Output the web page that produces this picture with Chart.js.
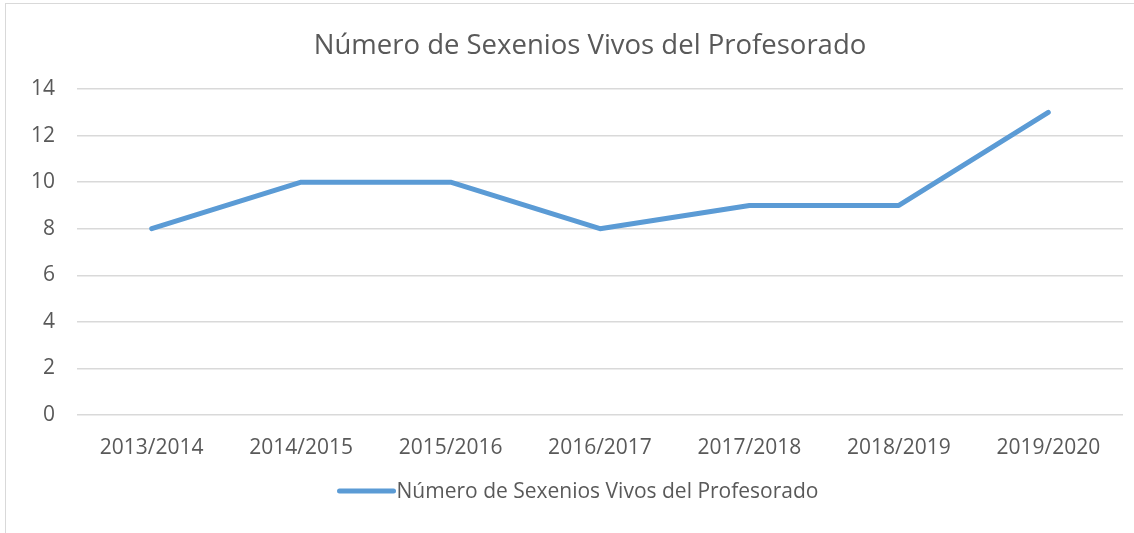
<!DOCTYPE html>
<html>
<head>
<meta charset="utf-8">
<script src="https://cdn.jsdelivr.net/npm/chart.js@4"></script>
<style>
  html, body { margin: 0; padding: 0; background: #fff; }
  #wrap { position: relative; width: 1134px; height: 533px; }
  #frame { position: absolute; left: 5px; top: 3px; width: 1140px; height: 540px; border: 1.5px solid #d9d9d9; pointer-events: none; }
</style>
</head>
<body>
<div id="wrap">
  <canvas id="chart" width="1134" height="533"></canvas>
  <div id="frame"></div>
</div>
<script>
const TITLE = 'Número de Sexenios Vivos del Profesorado';
const CATEGORIES = ['2013/2014', '2014/2015', '2015/2016', '2016/2017', '2017/2018', '2018/2019', '2019/2020'];
const SEXENIOS = [8, 10, 10, 8, 9, 9, 13];
const Y_MIN = 0, Y_MAX = 14, Y_STEP = 2;

const TEXT = '#595959';
const LINE = '#5b9bd5';
const GRID = '#d9d9d9';
const FONT = "'Open Sans', sans-serif";

// titulo y leyenda dibujados a mano para colocarlos como en Excel
const decor = {
  id: 'decor',
  afterDraw(chart) {
    const ctx = chart.ctx;
    ctx.save();
    ctx.fillStyle = TEXT;
    ctx.textBaseline = 'middle';
    ctx.textAlign = 'center';
    ctx.font = '27.5px ' + FONT;
    ctx.fillText(TITLE, 590, 46);

    ctx.font = '21px ' + FONT;
    const w = ctx.measureText(TITLE).width;
    const x0 = 578 - (w + 59) / 2;
    ctx.strokeStyle = LINE;
    ctx.lineWidth = 5;
    ctx.lineCap = 'round';
    ctx.beginPath();
    ctx.moveTo(x0 + 2, 491);
    ctx.lineTo(x0 + 56, 491);
    ctx.stroke();
    ctx.textAlign = 'left';
    ctx.fillText(TITLE, x0 + 59, 492);
    ctx.restore();
  }
};

new Chart(document.getElementById('chart'), {
  type: 'line',
  data: {
    labels: CATEGORIES,
    datasets: [{
      label: TITLE,
      data: SEXENIOS,
      borderColor: LINE,
      backgroundColor: LINE,
      borderWidth: 5,
      borderCapStyle: 'round',
      borderJoinStyle: 'round',
      pointRadius: 0,
      tension: 0
    }]
  },
  options: {
    responsive: false,
    animation: false,
    layout: { padding: { top: 89, right: 11, left: 0, bottom: 0 } },
    plugins: {
      legend: { display: false },
      title: { display: false },
      tooltip: { enabled: false }
    },
    scales: {
      x: {
        offset: true,
        grid: { display: false },
        border: { display: false },
        ticks: { color: TEXT, font: { family: FONT, size: 21 }, padding: 12, maxRotation: 0 },
        afterFit(s) { s.height = 118; }
      },
      y: {
        min: Y_MIN, max: Y_MAX,
        grid: { color: GRID, lineWidth: 1.5, drawTicks: false },
        border: { display: false },
        ticks: { stepSize: Y_STEP, color: TEXT, font: { family: FONT, size: 21 }, padding: 22 },
        afterFit(s) { s.width = 77; }
      }
    }
  },
  plugins: [decor]
});
</script>
</body>
</html>
